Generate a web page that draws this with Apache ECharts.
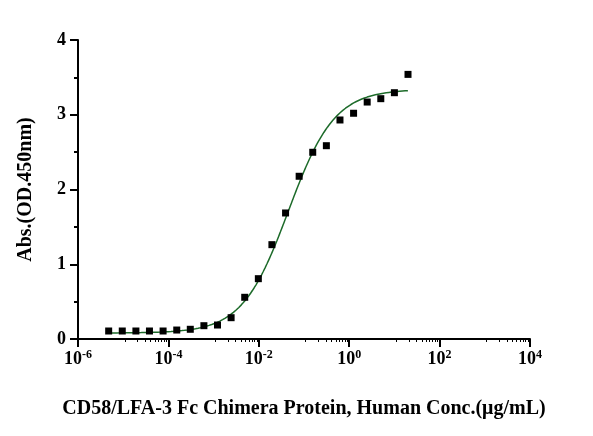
<!DOCTYPE html><html><head><meta charset="utf-8"><script src="https://cdn.jsdelivr.net/npm/echarts@6/dist/echarts.min.js"></script>
<style>html,body{margin:0;background:#fff}#c{width:593px;height:436px}</style></head><body><div id="c"></div><script>
const concentrations=[4.77e-6,9.54e-6,1.91e-5,3.81e-5,7.63e-5,1.53e-4,3.05e-4,6.10e-4,1.22e-3,2.44e-3,4.88e-3,9.77e-3,1.95e-2,3.91e-2,7.81e-2,0.156,0.3125,0.625,1.25,2.5,5,10,20];
const absorbance=[0.107,0.107,0.107,0.107,0.107,0.12,0.13,0.178,0.187,0.285,0.558,0.807,1.262,1.686,2.177,2.498,2.586,2.93,3.02,3.17,3.215,3.295,3.54];
const fitParams={bottom:0.08,top:3.34,ec50:0.045,hill:0.85};
const curve=[];
for(let e=Math.log10(concentrations[0]);e<=Math.log10(20)+1e-9;e+=0.02){const x=Math.pow(10,e);curve.push([x,fitParams.bottom+(fitParams.top-fitParams.bottom)/(1+Math.pow(fitParams.ec50/x,fitParams.hill))]);}
const font='Liberation Serif';
const ch=echarts.init(document.getElementById('c'));
ch.setOption({animation:false,
grid:{left:78,right:63,top:40,bottom:97},
xAxis:{type:'log',logBase:10,min:1e-6,max:1e4,interval:2,
 axisLine:{lineStyle:{color:'#000',width:2}},axisTick:{length:8,lineStyle:{color:'#000',width:2}},
 minorTick:{show:true,splitNumber:10,length:3,lineStyle:{color:'#000'}},splitLine:{show:false},
 axisLabel:{margin:10,formatter:v=>{const e=Math.round(Math.log10(v));return '{b|10}{s|'+e+'}';},
  rich:{b:{fontFamily:font,fontWeight:'bold',fontSize:18,color:'#000'},s:{fontFamily:font,fontWeight:'bold',fontSize:12,color:'#000',verticalAlign:'top',padding:[0,0,9,0]}}},
 name:'CD58/LFA-3 Fc Chimera Protein, Human Conc.(μg/mL)',nameLocation:'middle',nameGap:60,
 nameTextStyle:{fontFamily:font,fontWeight:'bold',fontSize:20,color:'#000'}},
yAxis:{type:'value',min:0,max:4,interval:1,
 axisLine:{show:true,lineStyle:{color:'#000',width:2}},axisTick:{show:true,length:8,lineStyle:{color:'#000',width:2}},
 minorTick:{show:true,splitNumber:2,length:4,lineStyle:{color:'#000',width:2}},splitLine:{show:false},
 axisLabel:{fontFamily:font,fontWeight:'bold',fontSize:18,color:'#000',margin:12},
 name:'Abs.(OD.450nm)',nameLocation:'middle',nameGap:42,nameRotate:90,
 nameTextStyle:{fontFamily:font,fontWeight:'bold',fontSize:20,color:'#000'}},
series:[
 {type:'line',data:curve,showSymbol:false,smooth:false,lineStyle:{color:'#1d6b2a',width:1.5},z:2},
 {type:'scatter',data:concentrations.map((c,i)=>[c,absorbance[i]]),symbol:'rect',symbolSize:7,itemStyle:{color:'#000',opacity:1},z:3}
]});
</script></body></html>
